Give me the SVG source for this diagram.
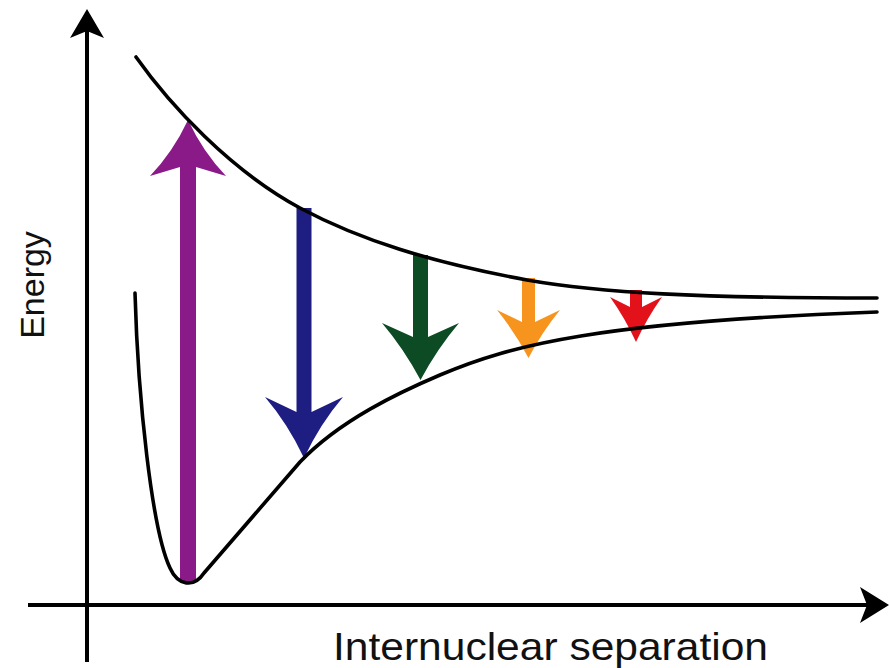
<svg xmlns="http://www.w3.org/2000/svg" width="889" height="668" viewBox="0 0 889 668">
  <style>
    .axis { stroke: #000; stroke-width: 4; fill: none; }
    .head { fill: #000; }
    .curve { stroke: #000; stroke-width: 3.6; fill: none; stroke-linecap: round; stroke-linejoin: round; }
    .label { font-family: "Liberation Sans", Arial, sans-serif; fill: #111; }
  </style>
  <rect width="889" height="668" fill="#fff"/>

  <g id="axes">
    <line class="axis" x1="87" y1="30" x2="87" y2="662"/>
    <path class="head" d="M87,9 L104,38 L87,31 L70,38 Z"/>
    <line class="axis" x1="28" y1="605" x2="870" y2="605"/>
    <path class="head" d="M889,605 L860,623 L867,605 L860,587 Z"/>
  </g>

  <g id="transitions">
    <g id="arrow-purple">
      <path fill="#8b1a89" d="M180,582 L196,582 L196,167 L226,176 Q203,152 188,120 Q173,152 150,176 L180,167 Z"/>
    </g>
    <g id="arrow-blue">
      <path fill="#1e1e82" d="M296.5,208 L311.5,208 L311.5,412 L343,397 Q320,424 304,458 Q288,424 265,397 L296.5,412 Z"/>
    </g>
    <g id="arrow-green">
      <path fill="#0c4b23" d="M413,255 L428,255 L428,337 L459,323 Q437,349 420.5,380 Q404,349 382,323 L413,337 Z"/>
    </g>
    <g id="arrow-orange">
      <path fill="#f7941e" d="M522,278 L535,278 L535,322 L560,310 Q542,332 528.5,358 Q515,332 497,310 L522,322 Z"/>
    </g>
    <g id="arrow-red">
      <path fill="#e3111a" d="M630,290 L642,290 L642,307 L662,297 Q647,318 636,342 Q625,318 610,297 L630,307 Z"/>
    </g>
  </g>

  <g id="curves">
    <path id="repulsive-curve" class="curve" d="M136,57 C170,105 230,170 300,208 C360,240 430,262 527,280 C600,293 700,298 877,298"/>
    <path id="bound-curve" class="curve" d="M135,293 C138,400 152,530 170,568 C178,586 194,588 204,573 L300,462 C340,420 400,392 440,375 C510,345 600,322 877,312"/>
  </g>

  <g id="labels">
    <text class="label" x="44" y="285" font-size="34" text-anchor="middle" transform="rotate(-90 44 285)">Energy</text>
    <text class="label" x="333" y="660" font-size="39" textLength="435" lengthAdjust="spacingAndGlyphs">Internuclear separation</text>
  </g>
</svg>
